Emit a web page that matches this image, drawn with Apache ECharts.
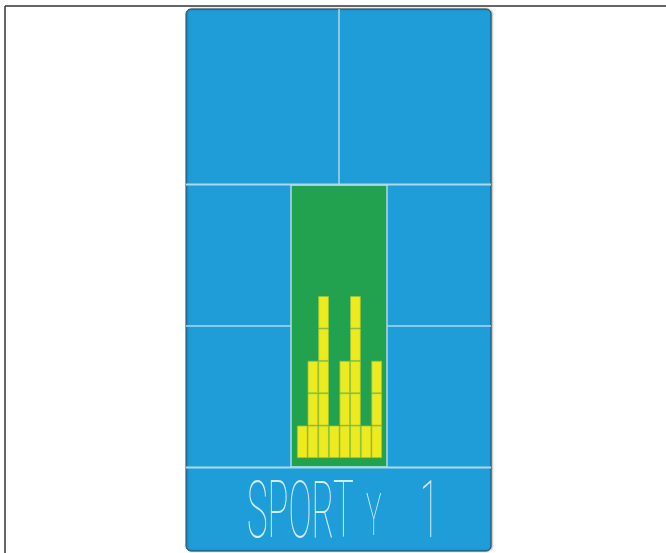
<!DOCTYPE html>
<html>
<head>
<meta charset="utf-8">
<script src="https://cdn.jsdelivr.net/npm/echarts@6/dist/echarts.min.js"></script>
<style>
  html, body { margin: 0; padding: 0; background: #fff; }
  #main { width: 666px; height: 553px; }
</style>
</head>
<body>
<div id="main"></div>
<script>
// LCD profile: 8 columns, number of lit segments per column
const columns = ["1", "2", "3", "4", "5", "6", "7", "8"]
const levels = [1, 3, 5, 1, 3, 5, 1, 3]
const segmentRows = 5
const programLabel = "SPORT"
const programMark = "Y"
const programNumber = "1"

const blue = "#1f9dd8"
const green = "#22a24f"
const yellow = "#eeea1e"
const lineColor = "#a9dbef"
const textColor = "#d4ecf6"

let myChart = echarts.init(document.getElementById("main"))

// one stacked series per segment row
let series = []
for (let k = 0; k < segmentRows; k++) {
  series.push({
    name: "row" + (k + 1),
    type: "bar",
    stack: "lcd",
    barWidth: "100%",
    barGap: 0,
    silent: true,
    itemStyle: {
      color: yellow,
      borderColor: "#9cc43a",
      borderWidth: 0.8,
    },
    data: levels.map((l) => (l > k ? 1 : "-")),
  })
}

myChart.setOption({
  animation: false,
  graphic: [
    // outer frame
    { type: "line", shape: { x1: 5, y1: 6, x2: 666, y2: 6 }, style: { stroke: "#333", lineWidth: 1.5 } },
    { type: "line", shape: { x1: 5, y1: 6, x2: 5, y2: 553 }, style: { stroke: "#333", lineWidth: 1.5 } },
    // blue panel
    {
      type: "rect",
      shape: { x: 186, y: 9, width: 305, height: 542, r: 5 },
      style: { fill: blue, stroke: "#2b4a5e", lineWidth: 1, shadowColor: "rgba(0,0,0,0.35)", shadowBlur: 2, shadowOffsetX: 1 },
      z: 0,
    },
    // green window
    {
      type: "rect",
      shape: { x: 291, y: 185, width: 96, height: 282 },
      style: { fill: green, stroke: lineColor, lineWidth: 1.5 },
      z: 1,
    },
    // dividers
    { type: "line", shape: { x1: 339, y1: 9, x2: 339, y2: 184 }, style: { stroke: lineColor, lineWidth: 1.5 }, z: 2 },
    { type: "line", shape: { x1: 186, y1: 184.5, x2: 491, y2: 184.5 }, style: { stroke: lineColor, lineWidth: 2 }, z: 2 },
    { type: "line", shape: { x1: 186, y1: 326, x2: 291, y2: 326 }, style: { stroke: lineColor, lineWidth: 1.5 }, z: 2 },
    { type: "line", shape: { x1: 387, y1: 326, x2: 491, y2: 326 }, style: { stroke: lineColor, lineWidth: 1.5 }, z: 2 },
    { type: "line", shape: { x1: 186, y1: 467.5, x2: 491, y2: 467.5 }, style: { stroke: lineColor, lineWidth: 2 }, z: 2 },
    // program text
    {
      type: "text",
      x: 247,
      y: 517,
      scaleX: 0.44,
      z: 3,
      style: {
        text: programLabel,
        font: "100 79px Roboto, 'DejaVu Sans'",
        fill: textColor,
        textVerticalAlign: "middle",
      },
    },
    {
      type: "text",
      x: 366,
      y: 520,
      scaleX: 0.5,
      scaleY: 1.15,
      z: 3,
      style: {
        text: programMark,
        font: "100 52px Roboto, 'DejaVu Sans'",
        fill: textColor,
        textVerticalAlign: "middle",
      },
    },
    {
      type: "text",
      x: 420,
      y: 517,
      scaleX: 0.44,
      z: 3,
      style: {
        text: programNumber,
        font: "100 79px Roboto, 'DejaVu Sans'",
        fill: textColor,
        textVerticalAlign: "middle",
      },
    },
  ],
  grid: {
    left: 297,
    right: 284,
    top: 199,
    bottom: 95,
  },
  xAxis: {
    type: "category",
    data: columns,
    show: false,
  },
  yAxis: {
    type: "value",
    min: 0,
    max: 8,
    show: false,
  },
  series: series,
})
</script>
</body>
</html>
